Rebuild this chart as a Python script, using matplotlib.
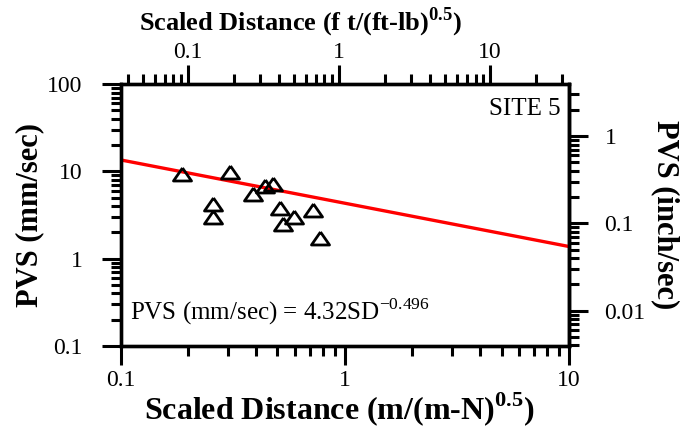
import numpy as np
import matplotlib
matplotlib.use('Agg')
import matplotlib.pyplot as plt
from matplotlib import ticker

plt.rcParams['font.family'] = 'Liberation Serif'
plt.rcParams['mathtext.fontset'] = 'custom'
plt.rcParams['mathtext.rm'] = 'Liberation Serif'
plt.rcParams['mathtext.bf'] = 'Liberation Serif:bold'

# site 5 records: scaled distance (m/(m-N)^0.5) and peak vector sum (mm/sec)
scaled_dist = [0.187, 0.306, 0.258, 0.258, 0.391, 0.44, 0.48, 0.514, 0.528, 0.59, 0.724, 0.776]
pvs_mm = [9.25, 9.8, 4.22, 3.0, 5.5, 6.79, 7.21, 3.77, 2.49, 2.97, 3.6, 1.72]

# attenuation law PVS = K * SD^b
fit_k = 4.32
fit_b = -0.496

x_lim = (0.1, 10)
y_lim = (0.1, 100)
top_lim = (0.0358, 33.3)     # ft/(ft-lb)^0.5 scale on top
mm_per_inch = 25.4

x_ticks = [0.1, 1, 10]
y_ticks = [0.1, 1, 10, 100]
top_ticks = [0.1, 1, 10]
right_ticks = [0.01, 0.1, 1]

fig = plt.figure(figsize=(6.92, 4.38), dpi=100)
ax = fig.add_axes([0.1744, 0.210, 0.648, 0.598])

fit_sd = np.logspace(np.log10(x_lim[0]), np.log10(x_lim[1]), 60)
ax.plot(fit_sd, fit_k * fit_sd ** fit_b, color='red', lw=2.4, zorder=2)

tri = [(0, 0.72), (-1, -0.72), (1, -0.72), (0, 0.72)]
ax.plot(scaled_dist, pvs_mm, ls='none', marker=tri, ms=13, mfc='none',
        mec='black', mew=2.0, zorder=3)

ax.set_xscale('log')
ax.set_yscale('log')
ax.set_xlim(*x_lim)
ax.set_ylim(*y_lim)

plain = ticker.FuncFormatter(lambda v, p: '%g' % v)


def style_ticks(a, axis, pad):
    a.tick_params(axis=axis, which='major', direction='out', length=13.5, width=2.2,
                  labelsize=17, pad=pad, color='black')
    a.tick_params(axis=axis, which='minor', direction='out', length=7.5, width=2.2, color='black')


ax.xaxis.set_major_locator(ticker.FixedLocator(x_ticks))
ax.yaxis.set_major_locator(ticker.FixedLocator(y_ticks))
ax.xaxis.set_minor_locator(ticker.LogLocator(base=10, subs=np.arange(2, 10)))
ax.yaxis.set_minor_locator(ticker.LogLocator(base=10, subs=np.arange(2, 10)))
ax.xaxis.set_major_formatter(plain)
ax.yaxis.set_major_formatter(plain)
ax.xaxis.set_minor_formatter(ticker.NullFormatter())
ax.yaxis.set_minor_formatter(ticker.NullFormatter())
style_ticks(ax, 'x', 4)
style_ticks(ax, 'y', 14)
ax.tick_params(top=False, right=False, which='both')

# top axis in imperial units
ax_top = ax.twiny()
ax_top.set_xscale('log')
ax_top.set_xlim(*top_lim)
ax_top.xaxis.set_major_locator(ticker.FixedLocator(top_ticks))
ax_top.xaxis.set_minor_locator(ticker.LogLocator(base=10, subs=np.arange(2, 10)))
ax_top.xaxis.set_major_formatter(plain)
ax_top.xaxis.set_minor_formatter(ticker.NullFormatter())
style_ticks(ax_top, 'x', 2)

# right axis in inch/sec
ax_right = ax.secondary_yaxis('right', functions=(lambda v: v / mm_per_inch,
                                                  lambda v: v * mm_per_inch))
ax_right.yaxis.set_major_locator(ticker.FixedLocator(right_ticks))
ax_right.yaxis.set_minor_locator(ticker.LogLocator(base=10, subs=np.arange(2, 10)))
ax_right.yaxis.set_major_formatter(plain)
ax_right.yaxis.set_minor_formatter(ticker.NullFormatter())
style_ticks(ax_right, 'y', 12)

for a in (ax, ax_top, ax_right):
    for s in a.spines.values():
        s.set_linewidth(2.4)

ax.set_xlabel(r'Scaled Distance (m/(m-N)$^{\mathbf{0.5}}$)', fontsize=23, fontweight='bold')
ax.xaxis.set_label_coords(0.487, -0.17)
ax.set_ylabel('PVS (mm/sec)', fontsize=22, fontweight='bold')
ax.yaxis.set_label_coords(-0.17, 0.5)
ax_top.set_xlabel(r'Scaled Distance (f t/(ft-lb)$^{\mathbf{0.5}}$)', fontsize=19, fontweight='bold')
ax_top.xaxis.set_label_coords(0.402, 1.205)
ax_right.set_ylabel('PVS (inch/sec)', fontsize=22, fontweight='bold', rotation=270, va='bottom')
ax_right.yaxis.set_label_coords(1.183, 0.5, transform=ax.transAxes)

ax.text(0.98, 0.882, 'SITE 5', transform=ax.transAxes, ha='right', va='baseline', fontsize=18)
ax.text(0.02, 0.1, r'PVS (mm/sec) = %.2fSD$^{%.3f}$' % (fit_k, fit_b),
        transform=ax.transAxes, ha='left', va='baseline', fontsize=18)

fig.savefig('out.png', dpi=100)
